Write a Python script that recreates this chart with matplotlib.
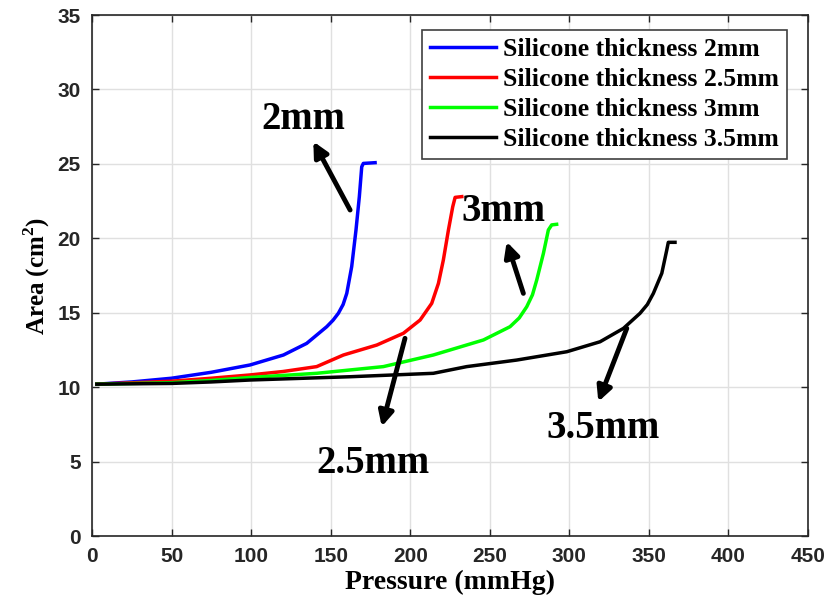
import matplotlib.pyplot as plt
import numpy as np

plt.rcParams['mathtext.fontset'] = 'custom'
plt.rcParams['mathtext.rm'] = 'Liberation Serif:bold'
plt.rcParams['mathtext.bf'] = 'Liberation Serif:bold'

# data
p_2mm = [3, 25, 50, 75, 99.3, 120.3, 134.9, 147.5, 151.5, 154.8, 157.8, 160.1, 163.2, 165.9, 168.0, 169.5, 170.5, 177.9]
a_2mm = [10.2, 10.35, 10.6, 11.0, 11.49, 12.16, 12.94, 14.06, 14.5, 14.96, 15.55, 16.3, 18.1, 20.56, 22.8, 24.8, 25.03, 25.08]

p_25mm = [3, 50, 75, 99.3, 120, 141.2, 158, 179, 195.7, 206.2, 213.5, 217.7, 220.8, 224, 226.7, 228.2, 232.4]
a_25mm = [10.2, 10.4, 10.6, 10.82, 11.05, 11.38, 12.16, 12.83, 13.62, 14.51, 15.63, 16.97, 18.54, 20.56, 22.12, 22.75, 22.8]

p_3mm = [3, 50, 75, 99.3, 141.2, 183.1, 214.5, 246, 262.7, 268.5, 273.2, 276.8, 279.5, 283.7, 286.8, 288.9, 292]
a_3mm = [10.2, 10.3, 10.45, 10.65, 10.93, 11.38, 12.16, 13.17, 14.06, 14.65, 15.4, 16.2, 17.2, 18.99, 20.56, 20.9, 20.94]

p_35mm = [3, 50, 75, 99.3, 162.2, 214.5, 235.5, 266.9, 298.4, 319.3, 334, 344.4, 349, 352.8, 358.1, 361.2, 362.2, 366.4]
a_35mm = [10.2, 10.25, 10.35, 10.48, 10.7, 10.93, 11.38, 11.82, 12.38, 13.05, 13.95, 14.96, 15.55, 16.3, 17.65, 19.2, 19.73, 19.73]

labels = ['Silicone thickness 2mm', 'Silicone thickness 2.5mm',
          'Silicone thickness 3mm', 'Silicone thickness 3.5mm']

# annotations: text, text position, arrow tail, arrow tip
notes = [
    ('2mm', (132.8, 28.0), (162.2, 21.9), (139.1, 26.5)),
    ('3mm', (258.5, 21.8), (271.1, 16.3), (260.6, 19.77)),
    ('2.5mm', (176.3, 4.9), (196.7, 13.28), (182.1, 7.35)),
    ('3.5mm', (321.4, 7.2), (336.1, 13.95), (318.2, 9.02)),
]

serif = 'Liberation Serif'
tickfont = ['Liberation Sans', 'DejaVu Sans']

fig = plt.figure(figsize=(8.24, 6.13), dpi=100)
ax = fig.add_axes([0.1117, 0.1256, 0.8689, 0.8499])

ax.plot(p_2mm, a_2mm, color='#0000ff', lw=2.5, label=labels[0])
ax.plot(p_25mm, a_25mm, color='#ff0000', lw=2.5, label=labels[1])
ax.plot(p_3mm, a_3mm, color='#00ff00', lw=2.5, label=labels[2])
ax.plot(p_35mm, a_35mm, color='black', lw=2.5, label=labels[3])

for txt, tpos, tail, tip in notes:
    ax.annotate('', xy=tip, xytext=tail,
                arrowprops=dict(arrowstyle='-|>', lw=3.5, color='black', mutation_scale=22,
                                shrinkA=0, shrinkB=0))
    ax.text(tpos[0], tpos[1], txt, fontsize=28, fontweight='bold', family=serif,
            ha='center', va='center')

ax.set_xlim(0, 450)
ax.set_ylim(0, 35)
ax.set_xticks(np.arange(0, 451, 50))
ax.set_yticks(np.arange(0, 36, 5))
ax.grid(True, color='#e0e0e0', lw=1)
ax.set_axisbelow(True)
ax.tick_params(direction='in', top=True, right=True, length=5, width=1, pad=8,
               colors='#262626')
for lab in ax.get_xticklabels() + ax.get_yticklabels():
    lab.set_family(tickfont)
    lab.set_fontweight('bold')
    lab.set_fontsize(15)
    lab.set_color('#262626')
for s in ax.spines.values():
    s.set_linewidth(1.2)
    s.set_color('#262626')

ax.set_xlabel('Pressure (mmHg)', fontsize=20, fontweight='bold', family=serif, labelpad=3)
ax.set_ylabel('Area (cm$^\\mathbf{2}$)', fontsize=18, fontweight='bold', family=serif, labelpad=4)

leg = ax.legend(loc='upper right', prop={'family': serif, 'weight': 'bold', 'size': 18.5},
                fancybox=False, edgecolor='#404040', framealpha=1, handlelength=2.55,
                borderpad=0.3, labelspacing=0.28, handletextpad=0.3, borderaxespad=0)
leg.set_bbox_to_anchor((787 / 824, 1 - 30 / 613), transform=fig.transFigure)
leg.get_frame().set_linewidth(1.2)

fig.savefig('out.png', dpi=100)
